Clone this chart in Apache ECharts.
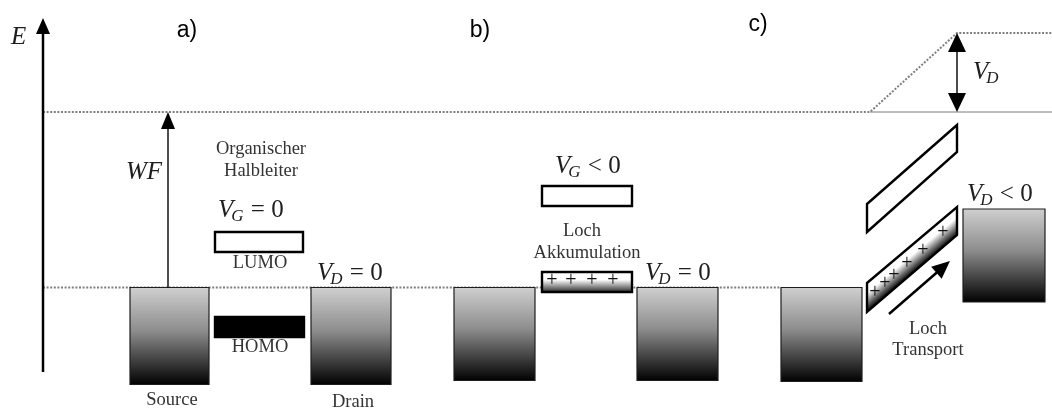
<!DOCTYPE html>
<html><head><meta charset="utf-8">
<script src="https://cdn.jsdelivr.net/npm/echarts@6/dist/echarts.min.js"></script>
<style>html,body{margin:0;padding:0;background:#fff}#c{width:1052px;height:409px}</style>
</head><body><div id="c"></div>
<script>
// Schematic band diagram. x = position along device (arb. units), y = energy E (arb. units, source Fermi level = 0)
const xRange = [0, 1052];
const eRange = [-121.5, 287.5];

// Electrodes (Source/Drain): [x0, x1, eTop, eBottom]
const electrodes = [
  [130, 209, 0, -97],
  [311, 391, 0, -97],
  [454, 535, 0, -93],
  [637, 718, 0, -93],
  [781, 862, 0, -94],
  [963, 1045, 78.5, -14.5]
];
// Flat semiconductor levels: [x0, x1, eTop, eBottom, kind]  kind 0 = empty (LUMO), 1 = filled (HOMO), 2 = holes
const flatLevels = [
  [215, 303, 55.5, 35.5, 0],
  [215, 304, -29.5, -49.5, 1],
  [542, 632, 101.5, 81.5, 0],
  [542, 632, 15.5, -4.5, 2]
];
// Tilted levels (panel c): [x0, x1, eLeftTop, eLeftBottom, eRightTop, eRightBottom, kind]
const tiltedLevels = [
  [867, 957, 83.5, 55.5, 162.5, 135.5, 0],
  [867, 957, 4.5, -24.5, 80.5, 52.5, 2]
];
// Holes "+" : [x, E]
const holes = [
  [552, 6.5], [571, 6.5], [592, 6.5], [613, 6.5],
  [875, -5.5], [885, 3.5], [894, 11.5], [907, 23.5], [923, 36.5], [943, 54.5]
];
// Dotted reference levels (Fermi level, vacuum level)
const dottedLines = [
  [[43, 0], [781, 0]],
  [[43, 175.5], [870, 175.5], [957, 254.5], [1052, 254.5]]
];
const solidLines = [
  [[870, 175.5], [1052, 175.5]]
];
// Arrows: [x1, e1, x2(tip), e2(tip), doubleHeaded, lineWidth, headLen, headHalfWidth]
const arrows = [
  [43, -84.5, 43, 269.5, 0, 2.5, 16, 7],
  [168, 0, 168, 175.5, 0, 1.4, 17, 7],
  [957, 175.5, 957, 254.5, 1, 1.4, 19, 9],
  [889, -26.5, 950, 26.5, 0, 2.5, 18, 8]
];
// Plain serif labels: [text, x(center), E(center)]
const serifLabels = [
  ['Organischer', 261, 138.5],
  ['Halbleiter', 261, 116.5],
  ['LUMO', 260, 24.5],
  ['HOMO', 260, -59.5],
  ['Source', 172, -112.5],
  ['Drain', 353, -114.5],
  ['Loch', 582, 56.5],
  ['Akkumulation', 587, 34.5],
  ['Loch', 928, -41.5],
  ['Transport', 928, -62.5]
];
// Math labels: [main, subscript, rest, x(left), E(center of main glyph)]
const mathLabels = [
  ['E', '', '', 11, 250.5],
  ['WF', '', '', 126, 115.5],
  ['V', 'G', ' = 0', 218, 77.5],
  ['V', 'D', ' = 0', 317, 14.5],
  ['V', 'G', ' < 0', 555, 121.5],
  ['V', 'D', ' = 0', 645, 14.5],
  ['V', 'D', '', 973, 215.5],
  ['V', 'D', ' < 0', 967, 93.5]
];
// Panel labels: [text, x(center), E(center)]
const panelLabels = [
  ['a)', 187, 256.5],
  ['b)', 480, 256.5],
  ['c)', 758, 262.5]
];

const SERIF = '"Liberation Serif", "DejaVu Serif", serif';
const SANS = '"Liberation Sans", Arial, sans-serif';
const G = echarts.graphic;
const MAIN_FS = 25, SUB_FS = 17;
const measureCtx = document.createElement('canvas').getContext('2d');
function textWidth(t, font) { measureCtx.font = font; return measureCtx.measureText(t).width; }

function seriesOf(name, arr, firstPt, render, z) {
  return {
    type: 'custom', name: name, coordinateSystem: 'cartesian2d', clip: false, z: z,
    silent: true,
    data: arr.map(firstPt),
    renderItem: render
  };
}

const option = {
  animation: false,
  backgroundColor: '#fff',
  grid: { left: 0, right: 0, top: 0, bottom: 0 },
  xAxis: { type: 'value', min: xRange[0], max: xRange[1], show: false },
  yAxis: { type: 'value', min: eRange[0], max: eRange[1], show: false },
  series: [
    seriesOf('dotted', dottedLines, l => l[0], function (params, api) {
      const l = dottedLines[params.dataIndex];
      return { type: 'polyline', shape: { points: l.map(p => api.coord(p)) },
        style: { stroke: '#7e7e7e', lineWidth: 2, lineDash: [2, 1.6], fill: null } };
    }, 1),
    seriesOf('solid', solidLines, l => l[0], function (params, api) {
      const l = solidLines[params.dataIndex];
      return { type: 'polyline', shape: { points: l.map(p => api.coord(p)) },
        style: { stroke: '#7a7a7a', lineWidth: 1, fill: null } };
    }, 1),
    seriesOf('electrodes', electrodes, d => [d[0], d[2]], function (params, api) {
      const d = electrodes[params.dataIndex];
      const p0 = api.coord([d[0], d[2]]), p1 = api.coord([d[1], d[3]]);
      return { type: 'rect',
        shape: { x: p0[0], y: p0[1], width: p1[0] - p0[0], height: p1[1] - p0[1] },
        style: { fill: new G.LinearGradient(0, 0, 0, 1, [
            { offset: 0, color: '#d0d0d0' }, { offset: 0.45, color: '#8c8c8c' }, { offset: 1, color: '#000' }]),
          stroke: '#1e1e1e', lineWidth: 1.2 } };
    }, 3),
    seriesOf('flatLevels', flatLevels, d => [d[0], d[2]], function (params, api) {
      const d = flatLevels[params.dataIndex];
      const p0 = api.coord([d[0], d[2]]), p1 = api.coord([d[1], d[3]]);
      let fill = '#fff';
      if (d[4] === 1) fill = '#000';
      if (d[4] === 2) fill = new G.LinearGradient(0, 0, 0, 1, [
        { offset: 0, color: '#fff' }, { offset: 0.4, color: '#fff' }, { offset: 1, color: '#1a1a1a' }]);
      return { type: 'rect',
        shape: { x: p0[0], y: p0[1], width: p1[0] - p0[0], height: p1[1] - p0[1] },
        style: { fill: fill, stroke: '#000', lineWidth: 2.4 } };
    }, 3),
    seriesOf('tiltedLevels', tiltedLevels, d => [d[0], d[2]], function (params, api) {
      const d = tiltedLevels[params.dataIndex];
      const lt = api.coord([d[0], d[2]]), lb = api.coord([d[0], d[3]]);
      const rt = api.coord([d[1], d[4]]), rb = api.coord([d[1], d[5]]);
      let fill = '#fff';
      if (d[6] === 2) {
        const bx = rt[0] - lt[0], by = rt[1] - lt[1], bl = Math.hypot(bx, by);
        const nx = -by / bl, ny = bx / bl; // normal pointing down-right
        const gap = (lb[1] - lt[1]) * Math.abs(bx / bl);
        const mx = (lt[0] + rt[0]) / 2, my = (lt[1] + rt[1]) / 2;
        fill = new G.LinearGradient(mx, my, mx + nx * gap, my + ny * gap, [
          { offset: 0, color: '#fff' }, { offset: 0.35, color: '#fff' }, { offset: 1, color: '#000' }], true);
      }
      return { type: 'polygon', shape: { points: [lt, rt, rb, lb] },
        style: { fill: fill, stroke: '#000', lineWidth: 2.4, lineJoin: 'miter' } };
    }, 3),
    seriesOf('holes', holes, d => d, function (params, api) {
      const p = api.coord(holes[params.dataIndex]);
      return { type: 'text', x: p[0], y: p[1],
        style: { text: '+', fontFamily: SERIF, fontSize: 20, fill: '#111', align: 'center', verticalAlign: 'middle' } };
    }, 5),
    seriesOf('arrows', arrows, d => [d[0], d[1]], function (params, api) {
      const a = arrows[params.dataIndex];
      const p1 = api.coord([a[0], a[1]]), p2 = api.coord([a[2], a[3]]);
      const dx = p2[0] - p1[0], dy = p2[1] - p1[1], len = Math.hypot(dx, dy);
      const ux = dx / len, uy = dy / len, nx = -uy, ny = ux;
      const L = a[6], W = a[7];
      function head(t, sx, sy) {
        return { type: 'polygon', shape: { points: [
          [t[0], t[1]],
          [t[0] - sx * L + nx * W, t[1] - sy * L + ny * W],
          [t[0] - sx * L - nx * W, t[1] - sy * L - ny * W]] },
          style: { fill: '#000' } };
      }
      const children = [head(p2, ux, uy)];
      let start = p1;
      if (a[4]) { children.push(head(p1, -ux, -uy)); start = [p1[0] + ux * L * 0.8, p1[1] + uy * L * 0.8]; }
      const end = [p2[0] - ux * L * 0.8, p2[1] - uy * L * 0.8];
      children.push({ type: 'line', shape: { x1: start[0], y1: start[1], x2: end[0], y2: end[1] },
        style: { stroke: '#000', lineWidth: a[5] } });
      return { type: 'group', children: children };
    }, 6),
    seriesOf('serifLabels', serifLabels, d => [d[1], d[2]], function (params, api) {
      const d = serifLabels[params.dataIndex];
      const p = api.coord([d[1], d[2]]);
      return { type: 'text', x: p[0], y: p[1],
        style: { text: d[0], fontFamily: SERIF, fontSize: 18.5, fill: '#333', align: 'center', verticalAlign: 'middle' } };
    }, 7),
    seriesOf('mathLabels', mathLabels, d => [d[3], d[4]], function (params, api) {
      const d = mathLabels[params.dataIndex];
      const p = api.coord([d[3], d[4]]);
      const mainFont = 'italic ' + MAIN_FS + 'px ' + SERIF;
      const subFont = 'italic ' + SUB_FS + 'px ' + SERIF;
      const restFont = MAIN_FS + 'px ' + SERIF;
      const children = [];
      let x = p[0];
      children.push({ type: 'text', x: x, y: p[1],
        style: { text: d[0], font: mainFont, fill: '#1e1e1e', align: 'left', verticalAlign: 'middle' } });
      x += textWidth(d[0], mainFont);
      if (d[1]) {
        const sx = x - 2;
        children.push({ type: 'text', x: sx, y: p[1] + 7,
          style: { text: d[1], font: subFont, fill: '#1e1e1e', align: 'left', verticalAlign: 'middle' } });
        x = sx + textWidth(d[1], subFont) + 1;
      }
      if (d[2]) {
        children.push({ type: 'text', x: x, y: p[1],
          style: { text: d[2], font: restFont, fill: '#1e1e1e', align: 'left', verticalAlign: 'middle' } });
      }
      return { type: 'group', children: children };
    }, 7),
    seriesOf('panelLabels', panelLabels, d => [d[1], d[2]], function (params, api) {
      const d = panelLabels[params.dataIndex];
      const p = api.coord([d[1], d[2]]);
      return { type: 'text', x: p[0], y: p[1],
        style: { text: d[0], fontFamily: SANS, fontSize: 23, fill: '#000', align: 'center', verticalAlign: 'middle' } };
    }, 7)
  ]
};

const chart = echarts.init(document.getElementById('c'), null, { renderer: 'canvas' });
chart.setOption(option);
</script>
</body></html>
